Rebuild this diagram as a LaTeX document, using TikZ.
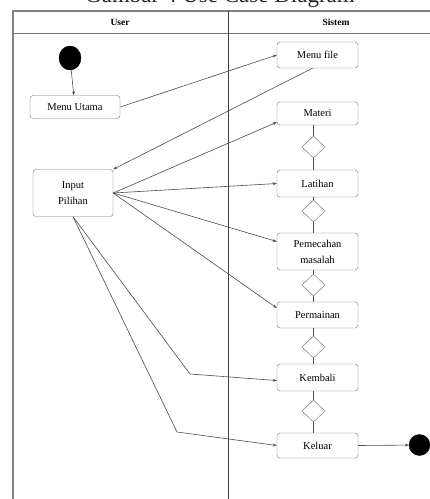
\documentclass[tikz,border=0pt]{standalone}
\usepackage{fontspec}
\setmainfont{Liberation Serif}
\usetikzlibrary{shapes.geometric,arrows.meta,positioning,calc}
\begin{document}
\begin{tikzpicture}[x=1pt,y=-1pt,
  act/.style={draw=black!55, rounded corners=3pt, minimum width=81pt, minimum height=26pt, inner sep=1pt, font=\fontsize{10.5}{16}\selectfont, align=center, fill=white},
  dec/.style={draw=black!60, diamond, minimum width=23pt, minimum height=22pt, inner sep=0pt, aspect=1, fill=white},
  flow/.style={draw=black!70, line width=0.6pt, -{Stealth[length=4pt,width=3pt]}},
  link/.style={draw=black!70, line width=0.6pt},
  frame/.style={draw=black!50, line width=1.4pt},
  hdr/.style={font=\fontsize{9.5}{10}\selectfont\bfseries}]
\useasboundingbox (0,0) rectangle (430,499);
\clip (0,0) rectangle (430,499);
\fill[white] (0,0) rectangle (430,499);
% title (cut off at the top edge)
\node[font=\fontsize{23}{23}\selectfont, anchor=base, inner sep=0pt, color=black!85] (title) at (220,2) {Gambar 4 Use Case Diagram};
% frame
\coordinate (tl) at (13,11);
\coordinate (tr) at (432,11);
\coordinate (hl) at (13,33);
\coordinate (hr) at (432,33);
\coordinate (bl) at (13,501);
\coordinate (dt) at (228,11);
\coordinate (db) at (228,501);
\draw[frame] (tr) -- (tl) -- (bl);
\draw[draw=black!55, line width=1pt] (hl) -- (hr);
\draw[draw=black!75, line width=0.7pt] (dt) -- (db);
\node[hdr] (user) at (120,22) {User};
\node[hdr] (sistem) at (336,22) {Sistem};
% nodes
\node[draw, fill=black, ellipse, minimum width=22pt, minimum height=24pt, inner sep=0pt] (start) at (70,58) {};
\node[act, minimum width=90pt, minimum height=23pt] (mu) at (75,107) {Menu Utama};
\node[act, minimum width=80pt, minimum height=47pt] (ip) at (73,193) {Input\\Pilihan};
\node[act] (mf) at (317.5,55) {Menu file};
\node[act, minimum height=23pt] (mat) at (317.5,113.5) {Materi};
\node[dec] (d1) at (313.5,147) {};
\node[act, minimum height=27pt] (lat) at (317.5,183.5) {Latihan};
\node[dec] (d2) at (313.5,211) {};
\node[act, minimum height=37pt] (pm) at (317.5,251.5) {Pemecahan\\masalah};
\node[dec] (d3) at (313.5,285) {};
\node[act] (pr) at (317.5,315) {Permainan};
\node[dec] (d4) at (313.5,347) {};
\node[act, minimum height=27pt] (kb) at (317.5,377.5) {Kembali};
\node[dec] (d5) at (313.5,411) {};
\node[act, minimum height=25pt] (kl) at (317.5,445.5) {Keluar};
\node[draw, fill=black, circle, minimum size=21pt, inner sep=0pt] (end) at (419.5,445) {};
% bends
\coordinate (bk) at (190,374);
\coordinate (bx) at (177,432);
% connectors
\draw[flow] (start) -- (mu);
\draw[flow] (mu.east) -- (mf.west);
\draw[flow] ([xshift=-5pt]mf.south) -- (ip.north east);
\draw[flow] (ip.east) -- ([yshift=3pt]mat.south west);
\draw[flow] (ip.east) -- (lat.west);
\draw[flow] (ip.east) -- ([yshift=10pt]pm.west);
\draw[flow] (ip.east) -- ([yshift=7pt]pr.west);
\draw[flow] (ip.south) -- (bk) -- ([yshift=-3pt]kb.west);
\draw[flow] (ip.south) -- (bx) -- (kl.west);
\draw[flow] (kl.east) -- (end);
% decision links
\draw[link] (d1.north) -- (d1.north |- mat.south);
\draw[link] (d1.south) -- (d1.south |- lat.north);
\draw[link] (d2.north) -- (d2.north |- lat.south);
\draw[link] (d2.south) -- (d2.south |- pm.north);
\draw[link] (d3.north) -- (d3.north |- pm.south);
\draw[link] (d3.south) -- (d3.south |- pr.north);
\draw[link] (d4.north) -- (d4.north |- pr.south);
\draw[link] (d4.south) -- (d4.south |- kb.north);
\draw[link] (d5.north) -- (d5.north |- kb.south);
\draw[link] (d5.south) -- (d5.south |- kl.north);
\end{tikzpicture}
\end{document}
